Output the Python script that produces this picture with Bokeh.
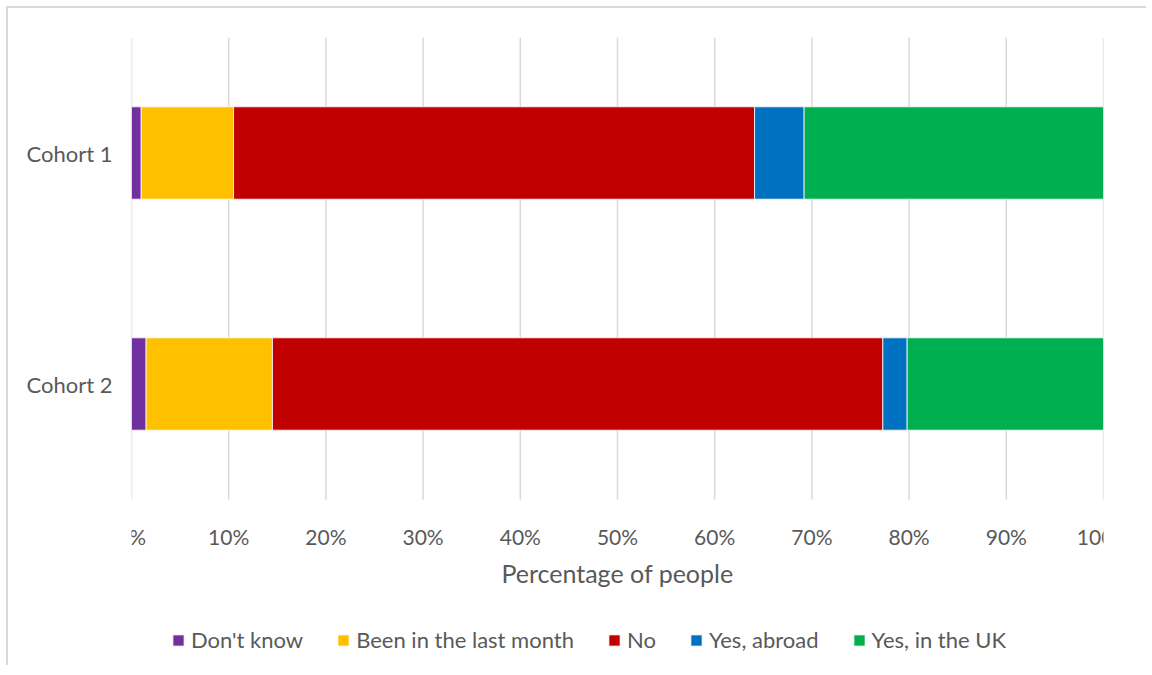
from bokeh.plotting import figure
from bokeh.models import Range1d, FixedTicker, Legend, LegendItem
from bokeh.core.properties import value
from bokeh.embed import file_html
from bokeh.resources import INLINE

cohorts = ["Cohort 1", "Cohort 2"]
series = ["Don't know", "Been in the last month", "No", "Yes, abroad", "Yes, in the UK"]
dont_know = [1.0, 1.5]
been_last_month = [9.5, 13.0]
no = [53.6, 62.8]
yes_abroad = [5.1, 2.5]
yes_uk = [30.8, 20.2]
colors = ["#7030A0", "#FFC000", "#C00000", "#0070C0", "#00B050"]
x_ticks = [0, 10, 20, 30, 40, 50, 60, 70, 80, 90, 100]
x_tick_labels = [f"{t}%" for t in x_ticks]
x_title = "Percentage of people"

FONT = "Lato"
TXT = "#595959"

# layout constants (pixels)
FRAME_W = 972
FRAME_H = 630          # frame extended downward so the legend can live inside it
BAND_PX = 231          # height of one cohort band
n = len(cohorts)
y_top = n
y_bottom = n - FRAME_H / BAND_PX

positions = [n - i - 0.5 for i in range(n)]
data = {"y": positions, "cohort": cohorts}
for name, vals in zip(series, [dont_know, been_last_month, no, yes_abroad, yes_uk]):
    data[name] = vals

p = figure(
    x_range=Range1d(0, 100), y_range=Range1d(y_bottom, y_top),
    frame_width=FRAME_W, frame_height=FRAME_H,
    x_axis_location=None,
    output_backend="svg", toolbar_location=None,
    min_border_left=123, min_border_right=45, min_border_top=29, min_border_bottom=0,
)
p.styles = {"box-shadow": "-2px -2px 0 0 #d9d9d9", "margin-left": "8px", "margin-top": "8px"}
p.outline_line_color = None
p.xgrid.grid_line_color = None
p.ygrid.grid_line_color = None

# vertical gridlines over the plotting band only
p.segment(x0=x_ticks, y0=[0] * len(x_ticks), x1=x_ticks, y1=[n] * len(x_ticks),
          line_color="#d9d9d9", line_width=1.5)

renderers = p.hbar_stack(series, y="y", height=0.4, color=colors, source=data,
                         line_color="#ffffff", line_width=0.8)

# x tick labels and axis title drawn as text under the band
p.text(x=x_ticks, y=[-0.16] * len(x_ticks), text=x_tick_labels,
       text_font=value(FONT), text_font_size="21px", text_color=TXT,
       text_align="center", text_baseline="middle")
p.text(x=[50], y=[-0.32], text=[x_title],
       text_font=value(FONT), text_font_size="25px", text_color=TXT,
       text_align="center", text_baseline="middle")

# y axis with cohort names
p.yaxis.ticker = FixedTicker(ticks=positions)
p.yaxis.major_label_overrides = {pos: c for pos, c in zip(positions, cohorts)}
p.yaxis.axis_line_color = None
p.yaxis.major_tick_line_color = None
p.yaxis.minor_tick_line_color = None
p.yaxis.major_label_text_font = FONT
p.yaxis.major_label_text_color = TXT
p.yaxis.major_label_text_font_size = "22px"
p.yaxis.major_label_standoff = 13

legend = Legend(
    items=[LegendItem(label=s, renderers=[r]) for s, r in zip(series, renderers)],
    orientation="horizontal", location=(40, 14),
    glyph_width=14, glyph_height=14, label_standoff=6, spacing=33,
    padding=0, margin=0, border_line_color=None, background_fill_alpha=0,
    label_text_font=FONT, label_text_color=TXT, label_text_font_size="22px",
)
p.add_layout(legend, "center")

open("out.html", "w").write(file_html(p, INLINE))
